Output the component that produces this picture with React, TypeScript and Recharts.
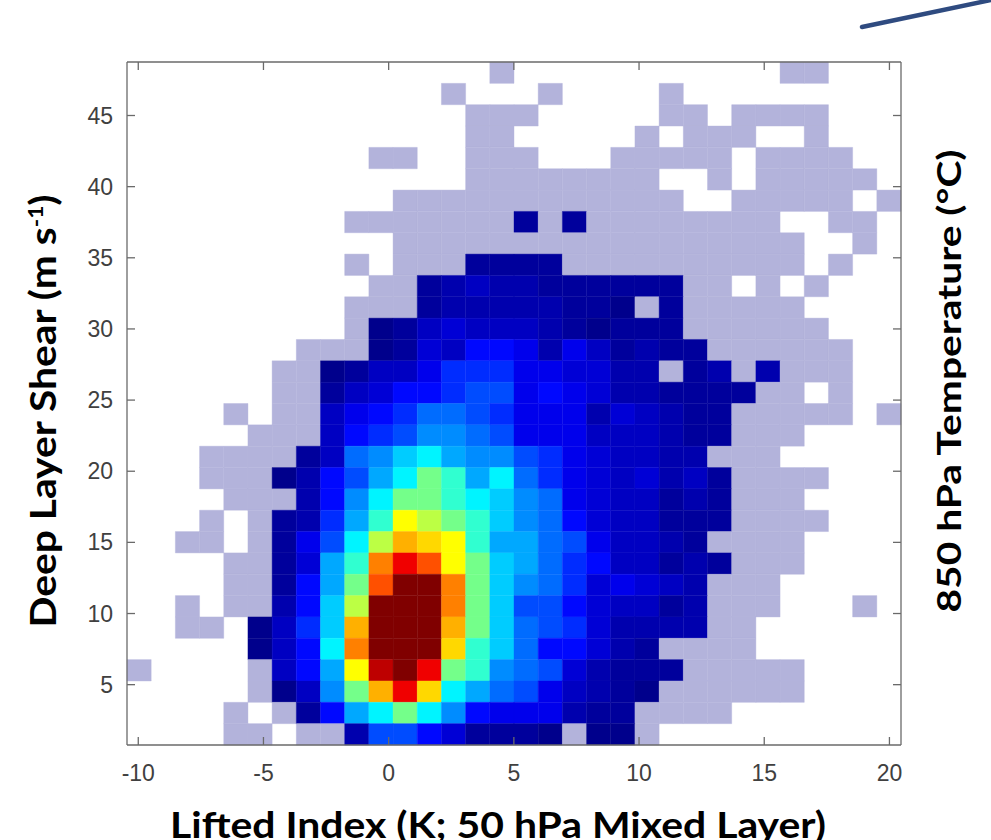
import { ScatterChart, Scatter, XAxis, YAxis, ReferenceArea } from "recharts";

const xTicks = [-10, -5, 0, 5, 10, 15, 20];
const yTicks = [5, 10, 15, 20, 25, 30, 35, 40, 45];

// 32 x 32 histogram bins
const xBinStart = -10.45;
const xBinWidth = 0.966;
const yBinStart = 0.76;
const yBinHeight = 1.5;

// colour level of each bin, top row (highest shear) first, left to right
// "." = empty, "L" = lowest count, then jet levels 1..Q
const binRows = [
  "........" + ".......L" + "........" + "...LL...",
  "........" + ".....L.." + ".L....L." + "........",
  "........" + "......LL" + "L.....LL" + ".LLLL...",
  "........" + "......LL" + ".....L.L" + "LL..L...",
  "........" + "..LL..LL" + "L...LLLL" + "L.LLLL..",
  "........" + "......LL" + "LLLLLL.." + "L.LLLLL.",
  "........" + "...LLLLL" + "LLLLLLL." + ".LLLLL.L",
  "........" + ".LLLLLLL" + "2L2LLLLL" + "LLL..LL.",
  "........" + "...LLLLL" + "LLLLLLLL" + "LLLL..L.",
  "........" + ".L.LLL22" + "22LLLLLL" + "LLLL.L..",
  "........" + "..LL2343" + "3222222L" + "L.L.L...",
  "........" + ".LLL2333" + "33221L2L" + "LLLL....",
  "........" + ".L124544" + "4321222L" + "LLLLL...",
  ".......L" + "LL125477" + "63642322" + "LLLLLL..",
  "......LL" + "12446888" + "665533L2" + "3L3LLL..",
  "......LL" + "24577899" + "67653322" + "22LL.L..",
  "....L.LL" + "4678AA98" + "66635432" + "2LLLLL.L",
  ".....LLL" + "4789BBA9" + "66644432" + "2LLL....",
  "...LLLL2" + "4ABDECBB" + "98654433" + "LLL.....",
  "...LLL13" + "79CEGFCE" + "A8654534" + "2LLLL...",
  "....LLL3" + "7BEGGFED" + "BA654423" + "2LLL....",
  "...L.L23" + "8CFIHGFD" + "BA754422" + "2LLLL...",
  "..LL.L26" + "9EHKJIFC" + "CA964432" + "LLLL....",
  "....LL25" + "CFMRNIGD" + "CA874423" + "2LLL....",
  "....LL27" + "CGNQQMGD" + "BA856543" + "LLL.....",
  "..L.LL37" + "DHQQQMGD" + "99754423" + "LLL...L.",
  "..LL.148" + "DKQQQKGD" + "A9853333" + "LL......",
  ".....147" + "EMQQQJFD" + "A77532LL" + "LL......",
  "L....L47" + "CIPQRGFB" + "A953222L" + "LLLL....",
  ".....L14" + "BGKRJECA" + "964321LL" + "LLLL....",
  "....L.L2" + "7CEGEB76" + "66322LLL" + "L.......",
  "....LL.L" + "L3997522" + "21L11L.." + "........",
];

const levelColors: Record<string, string> = {
  L: "#B3B3DB",
  "1": "#00008C",
  "2": "#00009C",
  "3": "#0000AE",
  "4": "#0000C2",
  "5": "#0000D6",
  "6": "#0000EC",
  "7": "#0008FF",
  "8": "#002CFF",
  "9": "#004CFF",
  A: "#006CFF",
  B: "#008CFF",
  C: "#00A8FF",
  D: "#00CCFF",
  E: "#00F4FF",
  F: "#30FFD0",
  G: "#74FF8A",
  H: "#BCFF44",
  I: "#FFFF00",
  J: "#FFD800",
  K: "#FFB000",
  M: "#FF8000",
  N: "#FF5000",
  R: "#F00000",
  P: "#BE0000",
  Q: "#800000",
};

const nRows = binRows.length;
const nCols = binRows[0].length;
const xMin = xBinStart;
const xMax = xBinStart + nCols * xBinWidth;
const yMin = yBinStart;
const yMax = yBinStart + nRows * yBinHeight;

const cells = binRows.flatMap((row, r) =>
  row.split("").flatMap((ch, c) => {
    if (ch === ".") return [];
    const x1 = xBinStart + c * xBinWidth;
    const y1 = yBinStart + (nRows - 1 - r) * yBinHeight;
    return [
      {
        id: `${r}-${c}`,
        x1,
        x2: x1 + xBinWidth,
        y1,
        y2: y1 + yBinHeight,
        x: x1 + xBinWidth / 2,
        y: y1 + yBinHeight / 2,
        fill: levelColors[ch],
      },
    ];
  })
);

const AXIS = "#6a6a6a";
const TICK_FONT = "'Liberation Sans', Arial, sans-serif";
const TITLE_FONT = "Lato, 'Open Sans', sans-serif";

function BottomTick({ x, y, payload }: any) {
  return (
    <g>
      <line x1={x} x2={x} y1={y} y2={y - 8} stroke={AXIS} strokeWidth={1.3} />
      <text x={x} y={y + 36} textAnchor="middle" fontFamily={TICK_FONT} fontSize={23} fill="#404040">
        {payload.value}
      </text>
    </g>
  );
}

function TopTick({ x, y }: any) {
  return <line x1={x} x2={x} y1={y} y2={y + 8} stroke={AXIS} strokeWidth={1.3} />;
}

function LeftTick({ x, y, payload }: any) {
  return (
    <g>
      <line x1={x} x2={x + 8} y1={y} y2={y} stroke={AXIS} strokeWidth={1.3} />
      <text x={x - 14} y={y + 8} textAnchor="end" fontFamily={TICK_FONT} fontSize={23} fill="#404040">
        {payload.value}
      </text>
    </g>
  );
}

function RightTick({ x, y }: any) {
  return <line x1={x - 8} x2={x} y1={y} y2={y} stroke={AXIS} strokeWidth={1.3} />;
}

export default function App() {
  return (
    <div style={{ position: "absolute", left: 0, top: 0, width: 991, height: 840, background: "#fff", overflow: "hidden" }}>
      <ScatterChart width={991} height={840} margin={{ top: 61, right: 89, bottom: 65, left: 87 }}>
        <XAxis
          type="number"
          dataKey="x"
          domain={[xMin, xMax]}
          ticks={xTicks}
          allowDataOverflow
          interval={0}
          height={30}
          tickSize={0}
          tickMargin={0}
          tickLine={false}
          axisLine={{ stroke: AXIS, strokeWidth: 1.3 }}
          tick={BottomTick}
        />
        <XAxis
          xAxisId="top"
          orientation="top"
          type="number"
          dataKey="x"
          domain={[xMin, xMax]}
          ticks={xTicks}
          allowDataOverflow
          interval={0}
          height={1}
          tickSize={0}
          tickMargin={0}
          tickLine={false}
          axisLine={{ stroke: AXIS, strokeWidth: 1.3 }}
          tick={TopTick}
        />
        <YAxis
          type="number"
          dataKey="y"
          domain={[yMin, yMax]}
          ticks={yTicks}
          allowDataOverflow
          interval={0}
          width={40}
          tickSize={0}
          tickMargin={0}
          tickLine={false}
          axisLine={{ stroke: AXIS, strokeWidth: 1.3 }}
          tick={LeftTick}
        />
        <YAxis
          yAxisId="right"
          orientation="right"
          type="number"
          dataKey="y"
          domain={[yMin, yMax]}
          ticks={yTicks}
          allowDataOverflow
          interval={0}
          width={1}
          tickSize={0}
          tickMargin={0}
          tickLine={false}
          axisLine={{ stroke: AXIS, strokeWidth: 1.3 }}
          tick={RightTick}
        />
        {cells.map((c) => (
          <ReferenceArea
            key={c.id}
            x1={c.x1}
            x2={c.x2}
            y1={c.y1}
            y2={c.y2}
            fill={c.fill}
            fillOpacity={1}
            stroke={c.fill}
            strokeWidth={0.4}
            ifOverflow="visible"
          />
        ))}
        <Scatter data={cells} isAnimationActive={false} shape={() => <g />} />
        <Scatter data={cells} xAxisId="top" yAxisId="right" isAnimationActive={false} shape={() => <g />} />
      </ScatterChart>
      <svg width={991} height={840} style={{ position: "absolute", left: 0, top: 0, pointerEvents: "none" }}>
        <line x1={862} y1={27} x2={991} y2={0} stroke="#2F4B80" strokeWidth={4.5} strokeLinecap="round" />
        <text
          transform="translate(56,411) rotate(-90)"
          textAnchor="middle"
          fontFamily={TITLE_FONT}
          fontWeight={700}
          fontSize={36}
          textLength={433}
          lengthAdjust="spacingAndGlyphs"
          fill="#000"
        >
          Deep Layer Shear (m s
          <tspan dy={-13} fontSize={20}>
            -1
          </tspan>
          <tspan dy={13}>)</tspan>
        </text>
        <text
          x={498}
          y={838}
          textAnchor="middle"
          fontFamily={TITLE_FONT}
          fontWeight={700}
          fontSize={36}
          textLength={656}
          lengthAdjust="spacingAndGlyphs"
          fill="#000"
        >
          Lifted Index (K; 50 hPa Mixed Layer)
        </text>
        <text
          transform="translate(961,381) rotate(-90)"
          textAnchor="middle"
          fontFamily={TITLE_FONT}
          fontWeight={700}
          fontSize={33}
          textLength={463}
          lengthAdjust="spacingAndGlyphs"
          fill="#000"
        >
          850 hPa Temperature (°C)
        </text>
      </svg>
    </div>
  );
}
